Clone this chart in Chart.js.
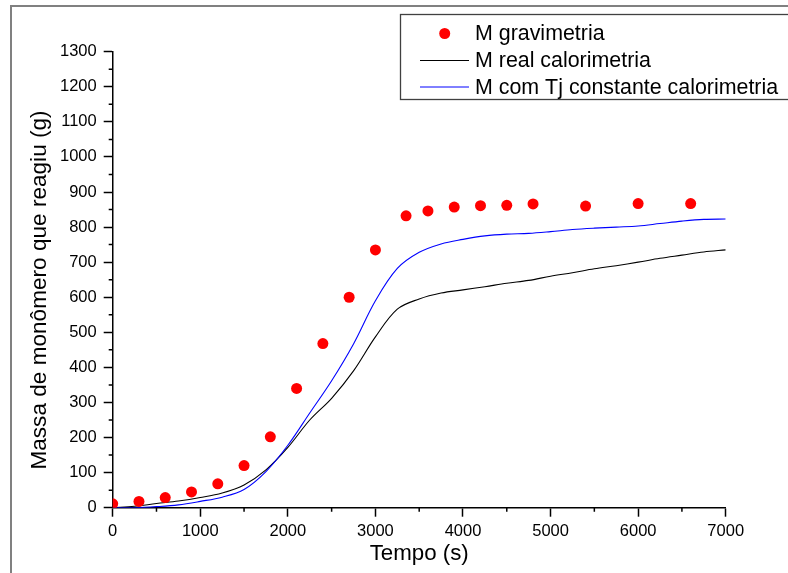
<!DOCTYPE html>
<html>
<head>
<meta charset="utf-8">
<script src="https://cdn.jsdelivr.net/npm/chart.js@4.4.1/dist/chart.umd.min.js"></script>
<style>
  html, body { margin: 0; padding: 0; background: #ffffff; }
  #wrap { width: 788px; height: 573px; position: relative; }
</style>
</head>
<body>
<div id="wrap"><canvas id="c" width="788" height="573"></canvas></div>
<script>
// ---- data ----
const timeGrav = [0, 300, 600, 900, 1200, 1500, 1800, 2100, 2400, 2700, 3000, 3350, 3600, 3900, 4200, 4500, 4800, 5400, 6000, 6600];
const massGrav = [11, 18, 29, 45, 68, 120, 202, 340, 468, 600, 735, 832, 846, 857, 861, 862, 866, 860, 867, 867];

const timeCal = [0, 250, 500, 750, 1000, 1250, 1500, 1750, 2000, 2250, 2500, 2750, 3000, 3250, 3500, 3750, 4000, 4250, 4500, 4750, 5000, 5250, 5500, 5750, 6000, 6250, 6500, 6750, 7000];
const massReal = [0, 4, 12, 19, 29, 42, 65, 108, 172, 250, 312, 390, 487, 566, 595, 612, 621, 630, 640, 648, 660, 670, 681, 690, 700, 711, 720, 729, 735];
const massTj = [0, 0, 3, 8, 18, 30, 52, 103, 178, 270, 362, 467, 590, 682, 728, 752, 765, 775, 780, 782, 787, 793, 797, 800, 803, 810, 817, 822, 823];

const xTicksMajor = [0, 1000, 2000, 3000, 4000, 5000, 6000, 7000];
const xTicksMinor = [500, 1500, 2500, 3500, 4500, 5500, 6500];
const yTicksMinor = [50, 150, 250, 350, 450, 550, 650, 750, 850, 950, 1050, 1150, 1250];

const seriesLabels = ['M gravimetria', 'M real calorimetria', 'M com Tj constante calorimetria'];
const xTitle = 'Tempo (s)';
const yTitle = 'Massa de monômero que reagiu (g)';

const FONT = '"Liberation Sans", Arial, Helvetica, sans-serif';

function pts(xs, ys) { return xs.map((x, i) => ({ x: x, y: ys[i] })); }

const framePlugin = {
  id: 'frame',
  beforeDraw(chart) {
    const ctx = chart.ctx;
    ctx.save();
    ctx.fillStyle = '#ffffff';
    ctx.fillRect(0, 0, chart.width, chart.height);
    ctx.strokeStyle = '#808080';
    ctx.lineWidth = 2;
    ctx.beginPath();
    ctx.moveTo(11, chart.height + 5);
    ctx.lineTo(11, 6);
    ctx.lineTo(chart.width + 5, 6);
    ctx.stroke();
    ctx.restore();
  }
};

const minorTickPlugin = {
  id: 'minorTicks',
  afterDraw(chart) {
    const ctx = chart.ctx;
    const xs = chart.scales.x, ys = chart.scales.y;
    ctx.save();
    ctx.strokeStyle = '#000000';
    ctx.lineWidth = 1.5;
    ctx.beginPath();
    const yb = ys.getPixelForValue(0);
    xTicksMinor.forEach(v => {
      const px = xs.getPixelForValue(v);
      ctx.moveTo(px, yb);
      ctx.lineTo(px, yb + 4);
    });
    const xl = xs.getPixelForValue(0);
    yTicksMinor.forEach(v => {
      const py = ys.getPixelForValue(v);
      ctx.moveTo(xl, py);
      ctx.lineTo(xl - 4, py);
    });
    ctx.stroke();
    ctx.restore();
  }
};

const titlePlugin = {
  id: 'axisTitles',
  afterDraw(chart) {
    const ctx = chart.ctx;
    const xs = chart.scales.x;
    ctx.save();
    ctx.fillStyle = '#000000';
    ctx.font = '22.3px ' + FONT;
    ctx.textAlign = 'center';
    ctx.textBaseline = 'alphabetic';
    ctx.fillText(xTitle, (xs.left + xs.right) / 2, 560);
    ctx.translate(46, 290);
    ctx.rotate(-Math.PI / 2);
    ctx.font = '22.6px ' + FONT;
    ctx.fillText(yTitle, 0, 0);
    ctx.restore();
  }
};

const legendPlugin = {
  id: 'customLegend',
  afterDraw(chart) {
    const ctx = chart.ctx;
    ctx.save();
    ctx.strokeStyle = '#404040';
    ctx.lineWidth = 1.3;
    ctx.strokeRect(400.5, 14.5, 400, 85);
    const rows = [33.5, 60.5, 87];
    ctx.font = '21.4px ' + FONT;
    ctx.textBaseline = 'middle';
    ctx.textAlign = 'left';
    ctx.beginPath();
    ctx.fillStyle = '#ff0000';
    ctx.arc(444.7, rows[0], 5.5, 0, Math.PI * 2);
    ctx.fill();
    ctx.lineWidth = 1;
    ctx.strokeStyle = '#000000';
    ctx.beginPath(); ctx.moveTo(420, rows[1]); ctx.lineTo(469, rows[1]); ctx.stroke();
    ctx.strokeStyle = '#0000ff';
    ctx.beginPath(); ctx.moveTo(420, rows[2]); ctx.lineTo(469, rows[2]); ctx.stroke();
    ctx.fillStyle = '#000000';
    seriesLabels.forEach((t, i) => ctx.fillText(t, 475, rows[i] + 1));
    ctx.restore();
  }
};

new Chart(document.getElementById('c'), {
  type: 'scatter',
  data: {
    datasets: [
      {
        label: seriesLabels[0],
        data: pts(timeGrav, massGrav),
        showLine: false,
        pointRadius: 5.5,
        pointBackgroundColor: '#ff0000',
        pointBorderWidth: 0,
        pointBorderColor: '#ff0000',
        order: 0
      },
      {
        label: seriesLabels[1],
        data: pts(timeCal, massReal),
        showLine: true,
        borderColor: '#000000',
        borderWidth: 1.1,
        pointRadius: 0,
        tension: 0.35,
        order: 2
      },
      {
        label: seriesLabels[2],
        data: pts(timeCal, massTj),
        showLine: true,
        borderColor: '#0000ff',
        borderWidth: 1.1,
        pointRadius: 0,
        tension: 0.35,
        order: 1
      }
    ]
  },
  options: {
    responsive: false,
    animation: false,
    devicePixelRatio: 1,
    layout: { padding: { left: 0, right: 62.3, top: 51.7, bottom: 0 } },
    plugins: { legend: { display: false }, tooltip: { enabled: false } },
    scales: {
      x: {
        type: 'linear',
        min: 0, max: 7000,
        afterFit(s) { s.height = 65.3; },
        afterBuildTicks(s) { s.ticks = xTicksMajor.map(v => ({ value: v })); },
        grid: { display: true, drawOnChartArea: false, drawTicks: true, tickLength: 9, tickWidth: 1.5, tickColor: '#000000' },
        border: { display: true, color: '#000000', width: 1.5 },
        ticks: { color: '#000000', padding: 5, font: { family: FONT, size: 16.5 }, maxRotation: 0, autoSkip: false, callback: v => String(v) },
        title: { display: false }
      },
      y: {
        type: 'linear',
        min: 0, max: 1300,
        afterFit(s) { s.width = 112.7; },
        ticks: { stepSize: 100, color: '#000000', padding: 7, font: { family: FONT, size: 16.5 }, autoSkip: false, callback: v => String(v) },
        grid: { display: true, drawOnChartArea: false, drawTicks: true, tickLength: 9, tickWidth: 1.5, tickColor: '#000000' },
        border: { display: true, color: '#000000', width: 1.5 },
        title: { display: false }
      }
    }
  },
  plugins: [framePlugin, minorTickPlugin, titlePlugin, legendPlugin]
});
</script>
</body>
</html>
